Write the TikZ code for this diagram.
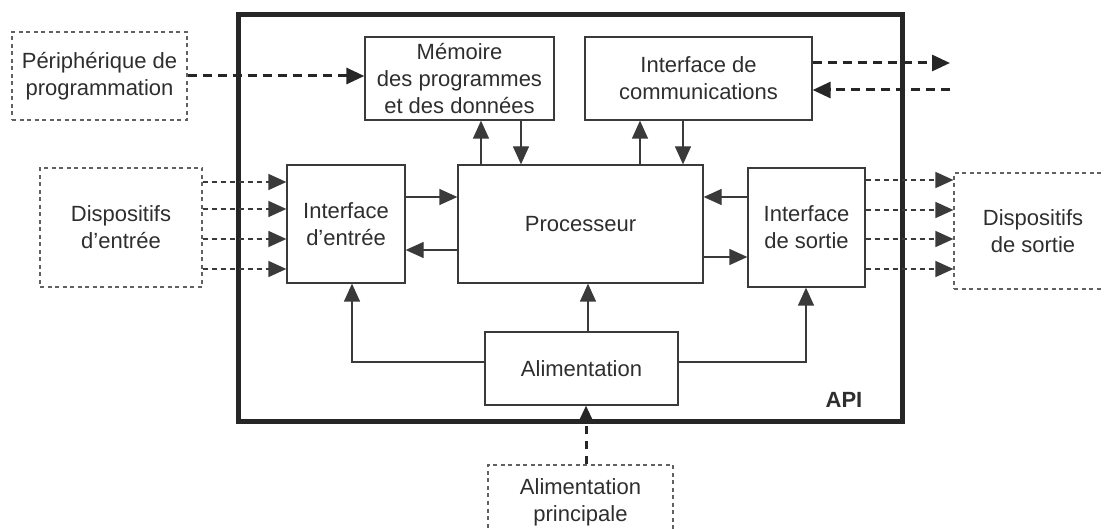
\documentclass[tikz,border=0pt]{standalone}
\usepackage{fontspec}
\setmainfont{Liberation Sans}
\usetikzlibrary{arrows.meta}
\definecolor{ink}{HTML}{2E2E2E}
\definecolor{edge}{HTML}{3A3A3A}
\begin{document}
\begin{tikzpicture}[x=1pt,y=-1pt,
  txt/.style={font=\fontsize{22}{27}\selectfont, text=ink, align=center},
  blk/.style={txt, draw=edge, line width=1.3pt, inner sep=0pt, rectangle},
  dblk/.style={txt, draw=edge!80, line width=1.2pt, dash pattern=on 4pt off 3.5pt, inner sep=0pt, rectangle},
  tip/.style={-{Triangle[length=18pt,width=16pt]}},
  arr/.style={tip, draw=edge, line width=1.3pt},
  tdash/.style={tip, draw=black!85, line width=3pt, dash pattern=on 9pt off 6pt},
  ldash/.style={tip, draw=edge, line width=1.6pt, dash pattern=on 5pt off 4pt},
]
\useasboundingbox (0,0) rectangle (1104,529);
% API outer frame
\draw[line width=5pt, draw=black!85] (238,15) rectangle (902,422);
\node[txt, font=\fontsize{22}{27}\selectfont\bfseries] (api) at (844,400) {API};

% blocks
\node[dblk, minimum width=175pt, minimum height=88pt] (periph) at (99.5,76) {Périphérique de\\programmation};
\node[blk, minimum width=189pt, minimum height=83pt] (mem) at (459.5,78.5) {Mémoire\\des programmes\\et des données};
\node[blk, minimum width=227pt, minimum height=83pt] (comm) at (698.5,78.5) {Interface de\\communications};
\node[dblk, minimum width=162pt, minimum height=119pt] (din) at (121,227.5) {Dispositifs\\d’entrée};
\node[blk, minimum width=118pt, minimum height=118pt] (ie) at (346,224) {Interface\\d’entrée};
\node[blk, minimum width=245pt, minimum height=118pt] (proc) at (580.5,224) {Processeur};
\node[blk, minimum width=117pt, minimum height=119pt] (is) at (806.5,227.5) {Interface\\de sortie};
\node[dblk, minimum width=158pt, minimum height=116pt] (dout) at (1033,231) {Dispositifs\\de sortie};
\node[blk, minimum width=193pt, minimum height=73pt] (alim) at (581.5,368.5) {Alimentation};
\node[dblk, minimum width=185pt, minimum height=74pt] (alimp) at (580.5,502) {Alimentation\\principale};

% free ends
\coordinate (cout) at (950,63);
\coordinate (cin) at (950,90);

% programming device
\draw[tdash] (periph.east |- 0,76) -- (mem.west |- 0,76);
% communications
\draw[tdash] (comm.east |- cout) -- (cout);
\draw[tdash] (cin) -- (comm.east |- cin);

% memory / comm <-> processor
\draw[arr] (proc.north -| 481,0) -- (mem.south -| 481,0);
\draw[arr] (mem.south -| 521,0) -- (proc.north -| 521,0);
\draw[arr] (proc.north -| 640,0) -- (comm.south -| 640,0);
\draw[arr] (comm.south -| 683,0) -- (proc.north -| 683,0);

% interfaces <-> processor
\draw[arr] (ie.east |- 0,197) -- (proc.west |- 0,197);
\draw[arr] (proc.west |- 0,250) -- (ie.east |- 0,250);
\draw[arr] (is.west |- 0,197) -- (proc.east |- 0,197);
\draw[arr] (proc.east |- 0,257) -- (is.west |- 0,257);

% inputs
\foreach \yy in {182,209,239,269}
  \draw[ldash] (din.east |- 0,\yy) -- (ie.west |- 0,\yy);
% outputs
\foreach \yy in {180,210,239,269}
  \draw[ldash] (is.east |- 0,\yy) -- (dout.west |- 0,\yy);

% power distribution
\draw[arr] (alim.west |- 0,362) -| (ie.south -| 352,0);
\draw[arr] (alim.north -| 588,0) -- (proc.south -| 588,0);
\draw[arr] (alim.east |- 0,362) -| (is.south -| 806,0);

% main power
\draw[tdash, dash pattern=on 8pt off 7pt] (alimp.north -| 586,0) -- (alim.south -| 586,0);
\end{tikzpicture}
\end{document}
